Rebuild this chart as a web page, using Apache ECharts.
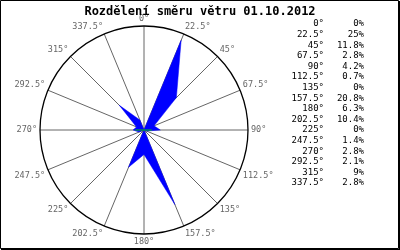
<!DOCTYPE html>
<html><head><meta charset="utf-8">
<script src="https://cdn.jsdelivr.net/npm/echarts@6/dist/echarts.min.js"></script>
<style>html,body{margin:0;padding:0;background:#fff}#c{width:400px;height:250px}</style>
</head><body><div id="c"></div>
<script>
var titleText = 'Rozdělení směru větru 01.10.2012';
var directions = [0, 22.5, 45, 67.5, 90, 112.5, 135, 157.5, 180, 202.5, 225, 247.5, 270, 292.5, 315, 337.5];
var percents = [0, 25, 11.8, 2.8, 4.2, 0.7, 0, 20.8, 6.3, 10.4, 0, 1.4, 2.8, 2.1, 9, 2.8];
var calmLine = [[2.3, 270], [2.0, 90]];
var radiusMax = 26.8;

var mono = 'DejaVu Sans Mono';
var roseData = directions.map(function (d, i) { return [percents[i], d]; });
roseData.push([percents[0], 360]);

var tableTexts = [];
directions.forEach(function (d, i) {
  var y = 24 + 10.6 * i;
  tableTexts.push({ type: 'text', x: 324, y: y, style: { text: d + '°', align: 'right', verticalAlign: 'middle', font: '9px "' + mono + '"', fill: '#000' } });
  tableTexts.push({ type: 'text', x: 364, y: y, style: { text: percents[i] + '%', align: 'right', verticalAlign: 'middle', font: '9px "' + mono + '"', fill: '#000' } });
});

var chart = echarts.init(document.getElementById('c'), null, { renderer: 'canvas' });
chart.setOption({
  animation: false,
  backgroundColor: '#fff',
  title: { text: titleText, left: 'center', top: 1, textStyle: { fontFamily: mono, fontSize: 12, fontWeight: 'bold', color: '#000' } },
  polar: { center: [144, 130], radius: 104 },
  angleAxis: {
    type: 'value', min: 0, max: 360, interval: 22.5, startAngle: 90, clockwise: true,
    axisLine: { show: true, lineStyle: { color: '#000', width: 1.3 } },
    axisTick: { show: false },
    splitLine: { show: true, lineStyle: { color: '#666', width: 1 } },
    axisLabel: { margin: 3, color: '#666', fontFamily: mono, fontSize: 8.5, formatter: function (v) { return v + '°'; } }
  },
  radiusAxis: { min: 0, max: radiusMax, axisLine: { show: false }, axisTick: { show: false }, axisLabel: { show: false }, splitLine: { show: false } },
  series: [
    { type: 'line', coordinateSystem: 'polar', data: roseData, symbol: 'none', lineStyle: { width: 0.5, color: '#0000ff' }, areaStyle: { color: '#0000ff', opacity: 1 }, z: 3 },
    { type: 'line', coordinateSystem: 'polar', data: calmLine, symbol: 'none', lineStyle: { width: 1, color: '#00cc00' }, z: 4 }
  ],
  graphic: [
    { type: 'rect', shape: { x: 0.5, y: 0.5, width: 398, height: 248 }, style: { fill: null, stroke: '#000', lineWidth: 1 } },
    { type: 'line', shape: { x1: 399.5, y1: 1, x2: 399.5, y2: 250 }, style: { stroke: '#000', lineWidth: 1 } },
    { type: 'line', shape: { x1: 1, y1: 249.5, x2: 400, y2: 249.5 }, style: { stroke: '#000', lineWidth: 1 } }
  ].concat(tableTexts)
});
</script></body></html>
